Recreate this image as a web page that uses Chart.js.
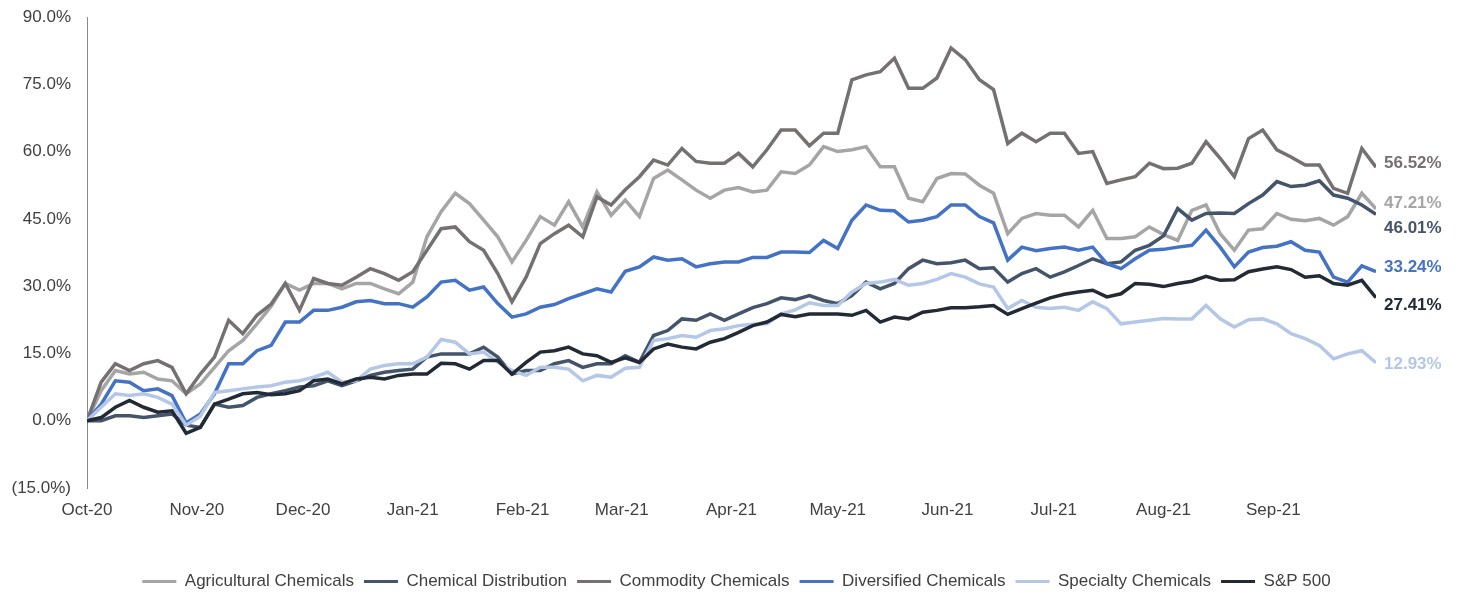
<!DOCTYPE html>
<html>
<head>
<meta charset="utf-8">
<script src="https://cdn.jsdelivr.net/npm/chart.js@4.4.1/dist/chart.umd.min.js"></script>
<style>
    body { margin: 0; background: #fff; }
    #perfChart { display: block; }
</style>
</head>
<body>
<canvas id="perfChart" width="1463" height="596"></canvas>
<script>
// Days since 1 Oct 2020 (one point every 4 days)
const days = [0, 4, 8, 12, 16, 20, 24, 28, 32, 36, 40, 44, 48, 52, 56, 60, 64, 68, 72, 76,
    80, 84, 88, 92, 96, 100, 104, 108, 112, 116, 120, 124, 128, 132, 136, 140, 144, 148, 152, 156,
    160, 164, 168, 172, 176, 180, 184, 188, 192, 196, 200, 204, 208, 212, 216, 220, 224, 228, 232, 236,
    240, 244, 248, 252, 256, 260, 264, 268, 272, 276, 280, 284, 288, 292, 296, 300, 304, 308, 312, 316,
    320, 324, 328, 332, 336, 340, 344, 348, 352, 356, 360, 364];

// Month ticks on the x axis
const monthStarts = [0, 31, 61, 92, 123, 151, 182, 212, 243, 273, 304, 335];
const monthLabels = ["Oct-20", "Nov-20", "Dec-20", "Jan-21", "Feb-21", "Mar-21",
    "Apr-21", "May-21", "Jun-21", "Jul-21", "Aug-21", "Sep-21"];

// Cumulative return (%) per index
const agricultural = [0, 6.7, 11.2, 10.4, 10.8, 9.3, 8.9, 6.0, 8.2, 11.9, 15.6, 17.9, 21.6, 25.5, 30.6, 29.1, 30.6, 30.6, 29.4, 30.6,
    30.6, 29.4, 28.3, 30.9, 41.0, 46.6, 50.7, 48.4, 44.7, 41.0, 35.4, 40.2, 45.5, 43.6, 48.8, 43.2, 51.0, 45.8, 49.2, 45.5,
    54.0, 55.9, 53.7, 51.4, 49.6, 51.4, 52.0, 51.0, 51.4, 55.5, 55.1, 57.0, 61.1, 60.0, 60.4, 61.1, 56.6, 56.6, 49.6, 48.8,
    54.0, 55.1, 55.0, 52.5, 50.7, 41.7, 45.1, 46.2, 45.8, 45.8, 43.2, 46.9, 40.6, 40.6, 41.0, 43.2, 41.5, 40.2, 46.9, 48.1,
    41.7, 38.0, 42.5, 42.8, 46.2, 44.9, 44.6, 45.1, 43.6, 45.5, 50.7, 47.21];
const chemDistribution = [0, 0, 1.1, 1.1, 0.7, 1.1, 1.5, -1.0, -1.5, 3.7, 3.0, 3.4, 5.2, 6.0, 6.7, 7.5, 7.8, 8.9, 7.8, 8.9,
    10.1, 10.8, 11.2, 11.5, 14.2, 14.9, 14.9, 14.9, 16.4, 14.2, 10.4, 11.2, 11.2, 12.7, 13.4, 11.9, 12.7, 12.7, 14.5, 13.0,
    19.0, 20.1, 22.7, 22.4, 23.8, 22.4, 23.8, 25.2, 26.1, 27.4, 27.0, 27.9, 26.8, 26.1, 27.9, 30.9, 29.4, 30.6, 33.9, 35.8,
    35.0, 35.2, 35.8, 33.9, 34.1, 30.9, 32.8, 33.9, 32.0, 33.2, 34.6, 36.1, 35.0, 35.4, 38.0, 39.1, 41.2, 47.3, 44.7, 46.2,
    46.3, 46.2, 48.4, 50.3, 53.3, 52.2, 52.5, 53.5, 50.3, 49.6, 48.1, 46.01];
const commodity = [0, 8.6, 12.7, 11.2, 12.7, 13.4, 11.9, 6.0, 10.4, 14.2, 22.4, 19.4, 23.5, 26.0, 30.6, 24.6, 31.7, 30.6, 30.2, 32.0,
    33.9, 32.8, 31.3, 33.2, 38.0, 42.8, 43.2, 39.9, 38.0, 32.8, 26.5, 32.0, 39.5, 41.7, 43.6, 41.0, 49.9, 48.1, 51.5, 54.4,
    58.1, 57.0, 60.7, 57.8, 57.4, 57.4, 59.6, 56.6, 60.4, 64.8, 64.8, 61.3, 64.1, 64.1, 76.0, 77.1, 77.8, 80.8, 74.1, 74.1,
    76.4, 83.1, 80.5, 76.0, 73.8, 61.8, 64.1, 62.2, 64.1, 64.1, 59.6, 60.0, 52.9, 53.7, 54.4, 57.4, 56.2, 56.3, 57.4, 62.2,
    58.5, 54.4, 62.9, 64.8, 60.4, 58.8, 57.0, 57.0, 51.8, 50.7, 60.7, 56.52];
const diversified = [0, 3.7, 8.9, 8.6, 6.7, 7.1, 5.6, -0.5, 1.5, 6.0, 12.7, 12.7, 15.6, 16.8, 22.0, 22.0, 24.6, 24.6, 25.3, 26.5,
    26.8, 26.1, 26.1, 25.3, 27.6, 30.9, 31.3, 29.1, 29.8, 26.1, 23.1, 23.8, 25.3, 25.9, 27.2, 28.3, 29.4, 28.7, 33.3, 34.3,
    36.5, 35.8, 36.1, 34.3, 35.0, 35.4, 35.4, 36.4, 36.4, 37.6, 37.6, 37.5, 40.2, 38.4, 44.7, 48.1, 46.9, 46.8, 44.3, 44.7,
    45.5, 48.1, 48.1, 45.5, 44.1, 35.8, 38.7, 37.9, 38.4, 38.7, 38.0, 38.7, 35.0, 33.9, 36.1, 38.0, 38.2, 38.7, 39.1, 42.5,
    38.7, 34.3, 37.6, 38.6, 38.9, 39.9, 38.0, 37.6, 32.0, 30.9, 34.5, 33.24];
const specialty = [0, 3.0, 6.0, 5.6, 6.0, 5.2, 3.7, -1.0, 1.0, 6.3, 6.7, 7.1, 7.5, 7.8, 8.6, 8.9, 9.7, 10.8, 8.6, 8.9,
    11.5, 12.3, 12.7, 12.7, 14.2, 18.1, 17.5, 14.9, 15.3, 13.0, 11.2, 10.1, 11.9, 11.9, 11.5, 8.9, 10.1, 9.7, 11.7, 11.9,
    17.9, 18.3, 19.0, 18.6, 20.1, 20.5, 21.2, 21.5, 21.6, 23.8, 24.7, 26.3, 25.7, 25.7, 28.7, 30.6, 30.9, 31.5, 30.2, 30.6,
    31.5, 32.8, 32.0, 30.5, 29.8, 25.0, 26.8, 25.3, 25.0, 25.3, 24.6, 26.5, 25.0, 21.6, 22.0, 22.4, 22.8, 22.7, 22.7, 25.7,
    22.7, 20.9, 22.5, 22.7, 21.6, 19.4, 18.3, 16.8, 13.8, 14.9, 15.6, 12.93];
const sp500 = [0, 0.7, 3.0, 4.5, 3.0, 1.9, 2.2, -2.8, -1.5, 3.7, 4.8, 6.0, 6.3, 5.8, 6.0, 6.7, 8.9, 9.3, 8.2, 9.3,
    9.7, 9.3, 10.1, 10.4, 10.4, 12.8, 12.7, 11.5, 13.4, 13.4, 10.4, 13.0, 15.3, 15.6, 16.4, 14.9, 14.5, 13.0, 14.0, 13.0,
    16.0, 17.1, 16.4, 16.0, 17.5, 18.3, 19.7, 21.2, 22.0, 23.7, 23.2, 23.8, 23.8, 23.8, 23.5, 24.6, 22.0, 23.1, 22.7, 24.2,
    24.6, 25.2, 25.2, 25.4, 25.7, 23.7, 25.0, 26.2, 27.4, 28.2, 28.7, 29.1, 27.6, 28.3, 30.6, 30.4, 29.9, 30.6, 31.1, 32.2,
    31.3, 31.4, 33.2, 33.8, 34.3, 33.7, 32.0, 32.3, 30.6, 30.2, 31.3, 27.41];

const FONT = '"Liberation Sans", Arial, sans-serif';
const TEXT_COLOR = '#404040';

// small vertical nudges so the end labels don't overlap (px)
const labelShift = [-5.5, 14, -3.5, -4.5, 1.5, 8];

function series(label, values, color, order) {
    return {
        label: label,
        data: values.map((v, i) => ({ x: days[i], y: v })),
        borderColor: color,
        backgroundColor: color,
        borderWidth: 3.5,
        pointRadius: 0,
        tension: 0,
        order: order
    };
}

// Value labels at the right end of each line
const endLabels = {
    id: 'endLabels',
    afterDatasetsDraw(chart) {
        const c = chart.ctx;
        c.save();
        c.font = 'bold 17px ' + FONT;
        c.textBaseline = 'middle';
        c.textAlign = 'left';
        chart.data.datasets.forEach((ds, i) => {
            const meta = chart.getDatasetMeta(i);
            const last = meta.data[meta.data.length - 1];
            const val = ds.data[ds.data.length - 1].y;
            c.fillStyle = ds.borderColor;
            c.fillText(val.toFixed(2) + '%', chart.chartArea.right + 8, last.y + labelShift[i]);
        });
        c.restore();
    }
};

const ctx = document.getElementById('perfChart').getContext('2d');
new Chart(ctx, {
    type: 'line',
    data: {
        datasets: [
            series('Agricultural Chemicals', agricultural, '#A5A5A5', 6),
            series('Chemical Distribution', chemDistribution, '#44546A', 5),
            series('Commodity Chemicals', commodity, '#767171', 4),
            series('Diversified Chemicals', diversified, '#4472C4', 3),
            series('Specialty Chemicals', specialty, '#B4C7E7', 2),
            series('S&P 500', sp500, '#222A35', 1)
        ]
    },
    options: {
        responsive: false,
        animation: false,
        devicePixelRatio: 1,
        layout: {
            padding: { left: 10, top: 17, right: 0, bottom: -4 }
        },
        scales: {
            x: {
                type: 'linear',
                min: 0,
                max: 364,
                grid: { display: false, drawTicks: false },
                border: { display: false },
                afterBuildTicks: (axis) => {
                    axis.ticks = monthStarts.map(v => ({ value: v }));
                },
                afterFit: (axis) => { axis.height = 75; },
                ticks: {
                    autoSkip: false,
                    maxRotation: 0,
                    padding: 12,
                    color: TEXT_COLOR,
                    font: { family: FONT, size: 17 },
                    callback: (value) => monthLabels[monthStarts.indexOf(value)]
                }
            },
            y: {
                min: -15,
                max: 90,
                grid: { display: false, drawTicks: false },
                border: { display: true, color: '#888888', width: 1 },
                afterFit: (axis) => { axis.width = 77; },
                ticks: {
                    stepSize: 15,
                    padding: 16,
                    color: TEXT_COLOR,
                    // tiny line height so the top label doesn't push the plot down
                    font: { family: FONT, size: 17, lineHeight: 0.1 },
                    callback: (v) => v < 0 ? '(' + Math.abs(v).toFixed(1) + '%)' : v.toFixed(1) + '%'
                }
            },
            // empty right-hand axis that keeps room for the end labels
            yRight: {
                position: 'right',
                min: -15,
                max: 90,
                grid: { display: false, drawTicks: false },
                border: { display: false },
                ticks: { display: false },
                afterFit: (axis) => { axis.width = 87; }
            }
        },
        plugins: {
            legend: {
                position: 'bottom',
                labels: {
                    boxWidth: 34,
                    boxHeight: 3,
                    padding: 10,
                    color: TEXT_COLOR,
                    font: { family: FONT, size: 17 },
                    sort: (a, b) => a.datasetIndex - b.datasetIndex,
                    generateLabels: (chart) =>
                        Chart.defaults.plugins.legend.labels.generateLabels(chart)
                            .map(l => Object.assign(l, { lineWidth: 0 }))
                }
            },
            tooltip: { enabled: false }
        }
    },
    plugins: [endLabels]
});
</script>
</body>
</html>
